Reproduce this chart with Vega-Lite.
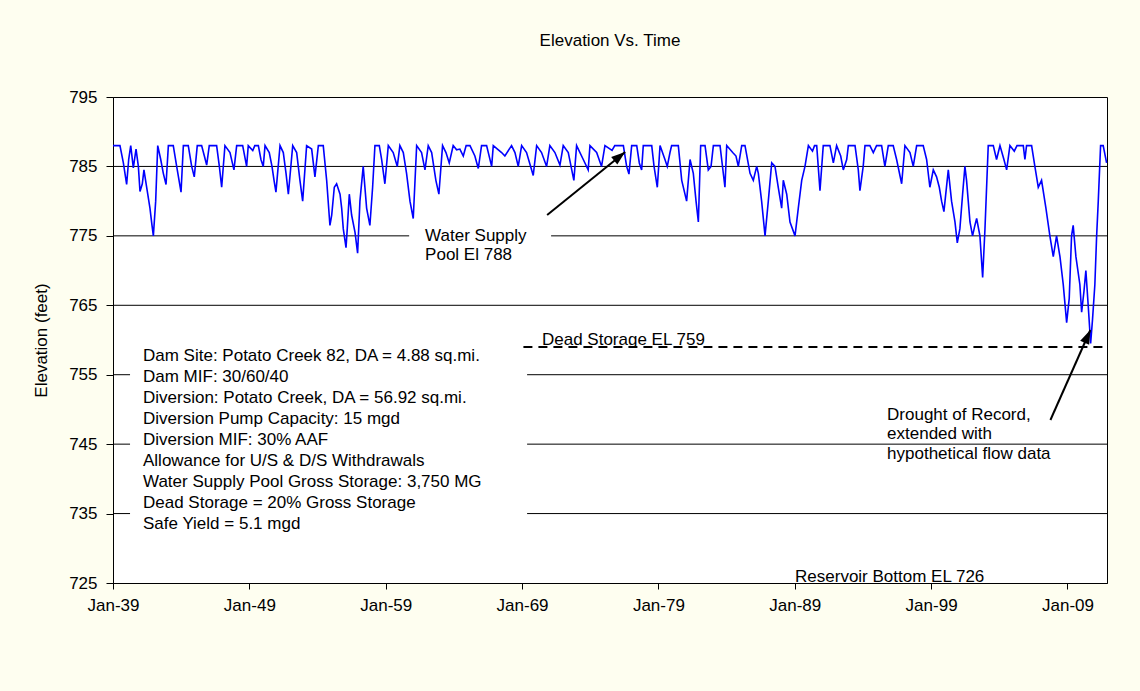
{
 "$schema": "https://vega.github.io/schema/vega-lite/v6.json",
 "width": 994, "height": 486,
 "autosize": {"type": "none"},
 "padding": {"left": 113, "top": 97, "right": 33, "bottom": 108},
 "background": "#FEFEF0",
 "config": {
  "font": "Liberation Sans",
  "view": {"fill": "white", "stroke": "black", "strokeWidth": 1},
  "axis": {"domainColor": "black", "tickColor": "black", "labelColor": "black", "titleColor": "black", "labelFont": "Liberation Sans", "titleFont": "Liberation Sans", "labelFontSize": 17, "titleFontSize": 17, "titleFontWeight": "normal", "grid": false, "labelFlush": false}
 },
 "title": {"text": "Elevation Vs. Time", "fontSize": 17, "fontWeight": "normal", "font": "Liberation Sans", "color": "black", "offset": 38, "anchor": "middle"},
 "datasets": {
  "elev": [
   {"t":1939.0,"e":788},{"t":1939.51,"e":788},{"t":1939.76,"e":785.5},{"t":1940.0,"e":782.4},{"t":1940.15,"e":786},{"t":1940.3,"e":788},{"t":1940.49,"e":784.8},{"t":1940.69,"e":787.5},{"t":1940.86,"e":785},{"t":1940.98,"e":781.4},{"t":1941.15,"e":782.5},{"t":1941.27,"e":784.5},{"t":1941.47,"e":782},{"t":1941.71,"e":779},{"t":1941.86,"e":776.5},{"t":1941.96,"e":775},{"t":1942.13,"e":780},{"t":1942.28,"e":788},{"t":1942.5,"e":786},{"t":1942.69,"e":784},{"t":1942.89,"e":782.4},{"t":1943.06,"e":788},{"t":1943.42,"e":788},{"t":1943.67,"e":785},{"t":1943.99,"e":781.3},{"t":1944.16,"e":788},{"t":1944.52,"e":788},{"t":1944.77,"e":785},{"t":1944.96,"e":783.5},{"t":1945.18,"e":788},{"t":1945.5,"e":788},{"t":1945.7,"e":786.5},{"t":1945.87,"e":785.2},{"t":1946.06,"e":788},{"t":1946.6,"e":788},{"t":1946.8,"e":785},{"t":1946.97,"e":782},{"t":1947.21,"e":788},{"t":1947.58,"e":787},{"t":1947.87,"e":784.5},{"t":1948.07,"e":788},{"t":1948.51,"e":788},{"t":1948.8,"e":785},{"t":1948.92,"e":788},{"t":1949.25,"e":787.3},{"t":1949.4,"e":788},{"t":1949.66,"e":788},{"t":1949.85,"e":786},{"t":1950.02,"e":785},{"t":1950.15,"e":788},{"t":1950.46,"e":787},{"t":1950.66,"e":785},{"t":1950.81,"e":783},{"t":1950.95,"e":781.3},{"t":1951.25,"e":788},{"t":1951.49,"e":787},{"t":1951.69,"e":784},{"t":1951.86,"e":781},{"t":1952.18,"e":788},{"t":1952.47,"e":787},{"t":1952.71,"e":783},{"t":1952.91,"e":780},{"t":1953.2,"e":788},{"t":1953.57,"e":787.5},{"t":1953.81,"e":783.5},{"t":1954.06,"e":788},{"t":1954.42,"e":788},{"t":1954.67,"e":783},{"t":1954.91,"e":776.5},{"t":1955.04,"e":778},{"t":1955.23,"e":782},{"t":1955.4,"e":782.5},{"t":1955.65,"e":781},{"t":1955.77,"e":779},{"t":1955.89,"e":776},{"t":1956.09,"e":773.3},{"t":1956.18,"e":776},{"t":1956.33,"e":781},{"t":1956.5,"e":778},{"t":1956.75,"e":775.5},{"t":1956.94,"e":772.5},{"t":1957.11,"e":780},{"t":1957.35,"e":785},{"t":1957.6,"e":779},{"t":1957.84,"e":776.5},{"t":1958.04,"e":782},{"t":1958.21,"e":788},{"t":1958.53,"e":788},{"t":1958.7,"e":786},{"t":1958.94,"e":782.5},{"t":1959.19,"e":788},{"t":1959.55,"e":787},{"t":1959.85,"e":785},{"t":1960.04,"e":788},{"t":1960.29,"e":787},{"t":1960.53,"e":784},{"t":1960.78,"e":780},{"t":1961.02,"e":777.5},{"t":1961.27,"e":788},{"t":1961.63,"e":787},{"t":1961.88,"e":784.5},{"t":1962.12,"e":788},{"t":1962.37,"e":787},{"t":1962.68,"e":783},{"t":1962.9,"e":781},{"t":1963.17,"e":788},{"t":1963.42,"e":787},{"t":1963.66,"e":785.5},{"t":1963.95,"e":788},{"t":1964.2,"e":787.4},{"t":1964.44,"e":787.5},{"t":1964.69,"e":786.5},{"t":1964.9,"e":788},{"t":1965.18,"e":788},{"t":1965.54,"e":786.5},{"t":1965.79,"e":784.7},{"t":1966.03,"e":788},{"t":1966.4,"e":788},{"t":1966.77,"e":785},{"t":1966.89,"e":788},{"t":1967.5,"e":787},{"t":1967.74,"e":786.5},{"t":1968.23,"e":788},{"t":1968.48,"e":787},{"t":1968.72,"e":785},{"t":1968.97,"e":788},{"t":1969.33,"e":787},{"t":1969.82,"e":783.7},{"t":1970.07,"e":788},{"t":1970.43,"e":787},{"t":1970.8,"e":785},{"t":1971.04,"e":788},{"t":1971.41,"e":787},{"t":1971.78,"e":785.2},{"t":1972.02,"e":788},{"t":1972.39,"e":787},{"t":1972.8,"e":783},{"t":1973.0,"e":788},{"t":1973.49,"e":786},{"t":1973.85,"e":784.5},{"t":1973.98,"e":788},{"t":1974.47,"e":787},{"t":1974.83,"e":785},{"t":1975.08,"e":788},{"t":1975.6,"e":787.3},{"t":1975.8,"e":788},{"t":1976.43,"e":788},{"t":1976.67,"e":785},{"t":1976.84,"e":783.9},{"t":1977.04,"e":788},{"t":1977.41,"e":788},{"t":1977.6,"e":785.5},{"t":1977.77,"e":784.5},{"t":1977.89,"e":788},{"t":1978.51,"e":788},{"t":1978.68,"e":785},{"t":1978.92,"e":782},{"t":1979.12,"e":788},{"t":1979.48,"e":786},{"t":1979.65,"e":785},{"t":1979.85,"e":787},{"t":1979.97,"e":788},{"t":1980.46,"e":788},{"t":1980.71,"e":783},{"t":1981.07,"e":780},{"t":1981.32,"e":786},{"t":1981.56,"e":784},{"t":1981.76,"e":780},{"t":1981.93,"e":777},{"t":1982.1,"e":788},{"t":1982.42,"e":788},{"t":1982.66,"e":784.5},{"t":1982.86,"e":785},{"t":1983.03,"e":788},{"t":1983.52,"e":788},{"t":1983.88,"e":782},{"t":1984.01,"e":788},{"t":1984.45,"e":787},{"t":1984.69,"e":786.5},{"t":1984.86,"e":785},{"t":1985.11,"e":788},{"t":1985.35,"e":788},{"t":1985.72,"e":784},{"t":1985.96,"e":783},{"t":1986.21,"e":785},{"t":1986.33,"e":784},{"t":1986.57,"e":780},{"t":1986.82,"e":775},{"t":1987.06,"e":780},{"t":1987.31,"e":785.5},{"t":1987.55,"e":785},{"t":1987.79,"e":782},{"t":1988.04,"e":779},{"t":1988.16,"e":783},{"t":1988.41,"e":781},{"t":1988.65,"e":777},{"t":1989.02,"e":775},{"t":1989.26,"e":779},{"t":1989.51,"e":783},{"t":1989.75,"e":785},{"t":1990.0,"e":788},{"t":1990.3,"e":787.2},{"t":1990.45,"e":788},{"t":1990.61,"e":788},{"t":1990.85,"e":781.5},{"t":1991.09,"e":788},{"t":1991.58,"e":788},{"t":1991.83,"e":785.5},{"t":1992.07,"e":788},{"t":1992.37,"e":786.5},{"t":1992.56,"e":784.5},{"t":1992.81,"e":786},{"t":1992.93,"e":788},{"t":1993.42,"e":788},{"t":1993.66,"e":784.5},{"t":1993.78,"e":781.5},{"t":1994.02,"e":785},{"t":1994.15,"e":788},{"t":1994.51,"e":788},{"t":1994.76,"e":787},{"t":1995.0,"e":788},{"t":1995.37,"e":788},{"t":1995.61,"e":785},{"t":1995.86,"e":788},{"t":1996.22,"e":788},{"t":1996.47,"e":786},{"t":1996.84,"e":782.5},{"t":1997.08,"e":788},{"t":1997.45,"e":787},{"t":1997.69,"e":785},{"t":1997.94,"e":788},{"t":1998.42,"e":788},{"t":1998.67,"e":786},{"t":1998.91,"e":782},{"t":1999.16,"e":784.5},{"t":1999.4,"e":783.5},{"t":1999.6,"e":782},{"t":1999.77,"e":780},{"t":1999.94,"e":778.5},{"t":2000.26,"e":784.5},{"t":2000.5,"e":780},{"t":2000.75,"e":777},{"t":2000.92,"e":774},{"t":2001.11,"e":776},{"t":2001.31,"e":781},{"t":2001.48,"e":785},{"t":2001.6,"e":783},{"t":2001.85,"e":777},{"t":2002.04,"e":775},{"t":2002.21,"e":776.5},{"t":2002.34,"e":777.5},{"t":2002.58,"e":775},{"t":2002.78,"e":769},{"t":2002.95,"e":776},{"t":2003.19,"e":788},{"t":2003.56,"e":788},{"t":2003.8,"e":786},{"t":2004.05,"e":788},{"t":2004.34,"e":786},{"t":2004.54,"e":784.5},{"t":2004.78,"e":788},{"t":2005.1,"e":787.2},{"t":2005.3,"e":788},{"t":2005.76,"e":788},{"t":2005.88,"e":786},{"t":2006.0,"e":788},{"t":2006.37,"e":788},{"t":2006.61,"e":785},{"t":2006.86,"e":782},{"t":2007.1,"e":783},{"t":2007.42,"e":779},{"t":2007.71,"e":775},{"t":2007.96,"e":772},{"t":2008.2,"e":775},{"t":2008.45,"e":772},{"t":2008.69,"e":768},{"t":2008.94,"e":762.5},{"t":2009.13,"e":766},{"t":2009.3,"e":775},{"t":2009.42,"e":776.5},{"t":2009.62,"e":772},{"t":2009.91,"e":768},{"t":2010.04,"e":764},{"t":2010.21,"e":767},{"t":2010.35,"e":770},{"t":2010.52,"e":765},{"t":2010.7,"e":759.5},{"t":2010.84,"e":763},{"t":2011.01,"e":768},{"t":2011.14,"e":775},{"t":2011.26,"e":780},{"t":2011.43,"e":788},{"t":2011.62,"e":788},{"t":2011.87,"e":785.5}
  ],
  "grid": [
   {"e":785,"t":1939,"t2":2011.9},
   {"e":775,"t":1939,"t2":1960.72},
   {"e":775,"t":1971.13,"t2":2011.9},
   {"e":765,"t":1939,"t2":2011.9},
   {"e":755,"t":1939,"t2":1940.25},
   {"e":755,"t":1969.37,"t2":2011.9},
   {"e":745,"t":1939,"t2":1940.25},
   {"e":745,"t":1969.37,"t2":2011.9},
   {"e":735,"t":1939,"t2":1940.25},
   {"e":735,"t":1969.37,"t2":2011.9}
  ],
  "dead": [{"e":759,"t":1969.1,"t2":2011.9}],
  "arrows": [
   {"t":1970.84,"e":778.0,"t2":1976.56,"e2":787.08},
   {"t":2007.75,"e":748.48,"t2":2010.68,"e2":761.44}
  ],
  "notes": [
   {"t":1961.89,"e":774.26,"label":"Water Supply\nPool El 788"},
   {"t":1995.77,"e":748.48,"label":"Drought of Record,\nextended with\nhypothetical flow data"},
   {"t":1970.46,"e":759.3,"label":"Dead Storage EL 759"},
   {"t":1989.02,"e":725.15,"label":"Reservoir Bottom EL 726"}
  ],
  "box": [
   {"t":1941.2,"e":757.0,"label":"Dam Site: Potato Creek 82, DA = 4.88 sq.mi.\nDam MIF: 30/60/40\nDiversion: Potato Creek, DA = 56.92 sq.mi.\nDiversion Pump Capacity: 15 mgd\nDiversion MIF: 30% AAF\nAllowance for U/S & D/S Withdrawals\nWater Supply Pool Gross Storage: 3,750 MG\nDead Storage = 20% Gross Storage\nSafe Yield = 5.1 mgd"}
  ]
 },
 "encoding": {
  "x": {"field": "t", "type": "quantitative",
        "scale": {"domain": [1939, 2011.9], "nice": false, "zero": false},
        "axis": {"values": [1939, 1949, 1959, 1969, 1979, 1989, 1999, 2009], "labelExpr": "'Jan-' + slice('0' + (datum.value % 100), -2)", "title": null, "tickSize": 6, "labelPadding": 8}},
  "y": {"field": "e", "type": "quantitative",
        "scale": {"domain": [725, 795], "nice": false, "zero": false},
        "axis": {"values": [725, 735, 745, 755, 765, 775, 785, 795], "title": "Elevation (feet)", "tickSize": 7, "labelPadding": 9, "titlePadding": 18}}
 },
 "layer": [
  {"data": {"name": "grid"}, "mark": {"type": "rule", "color": "black", "strokeWidth": 1}, "encoding": {"x2": {"field": "t2"}}},
  {"data": {"name": "dead"}, "mark": {"type": "rule", "color": "black", "strokeWidth": 2, "strokeDash": [9, 6]}, "encoding": {"x2": {"field": "t2"}}},
  {"data": {"name": "elev"}, "mark": {"type": "line", "color": "#0000FF", "strokeWidth": 1.6}},
  {"data": {"name": "arrows"}, "mark": {"type": "rule", "color": "black", "strokeWidth": 2}, "encoding": {"x2": {"field": "t2"}, "y2": {"field": "e2"}}},
  {"data": {"values": [{"t": 1976.56, "e": 787.08}]}, "mark": {"type": "point", "shape": "M0,0L-0.7,2L0.7,2Z", "size": 196, "filled": true, "color": "black", "opacity": 1, "angle": 51}},
  {"data": {"values": [{"t": 2010.68, "e": 761.44}]}, "mark": {"type": "point", "shape": "M0,0L-0.7,2L0.7,2Z", "size": 196, "filled": true, "color": "black", "opacity": 1, "angle": 24}},
  {"data": {"name": "notes"}, "mark": {"type": "text", "align": "left", "baseline": "alphabetic", "fontSize": 17, "font": "Liberation Sans", "color": "black", "lineBreak": "\n", "lineHeight": 19.5}, "encoding": {"text": {"field": "label"}}},
  {"data": {"name": "box"}, "mark": {"type": "text", "align": "left", "baseline": "alphabetic", "fontSize": 17, "font": "Liberation Sans", "color": "black", "lineBreak": "\n", "lineHeight": 21}, "encoding": {"text": {"field": "label"}}}
 ]
}
